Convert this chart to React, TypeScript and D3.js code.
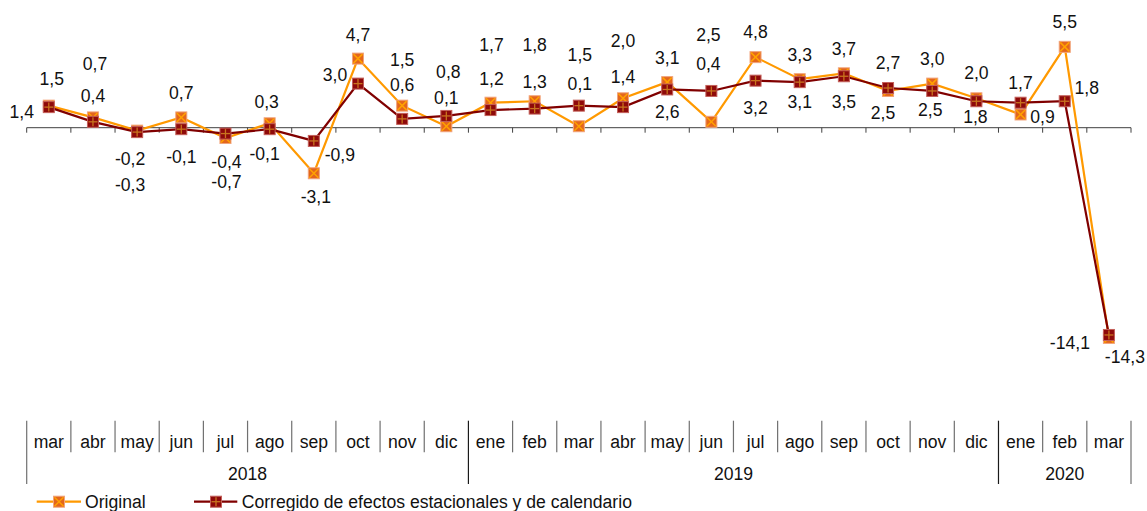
import React from "react";
import * as d3 from "d3";

const months = ["mar","abr","may","jun","jul","ago","sep","oct","nov","dic","ene","feb","mar","abr","may","jun","jul","ago","sep","oct","nov","dic","ene","feb","mar"];
const yearLabels = ["2018", "2019", "2020"];
const yearSpans = [10, 12, 3];
const original = [1.5,0.7,-0.2,0.7,-0.7,0.3,-3.1,4.7,1.5,0.1,1.7,1.8,0.1,2.0,3.1,0.4,4.8,3.3,3.7,2.5,3.0,2.0,0.9,5.5,-14.3];
const corrected = [1.4,0.4,-0.3,-0.1,-0.4,-0.1,-0.9,3.0,0.6,0.8,1.2,1.3,1.5,1.4,2.6,2.5,3.2,3.1,3.5,2.7,2.5,1.8,1.7,1.8,-14.1];
const seriesNames = ["Original", "Corregido de efectos estacionales y de calendario"];

// label placement (offset of label centre from its point)
const origLabelOffset: [number, number][] = [
  [3,-27],[2,-54],[-7,28],[0,-25],[1,44],[-3,-22],[2,23],[0,-24],[0,-46],[0,-29],
  [1,-58],[0,-57],[1,-43],[0,-58],[0,-24],[-3,-58],[0,-25],[0,-25],[0,-25],[-5,22],
  [0,-25],[0,-26],[22,2],[0,-25],[16,19]];
const saLabelOffset: [number, number][] = [
  [-27,5],[0,-26],[-7,53],[0,27],[1,28],[-5,24],[26,14],[-23,-9],[0,-34],[2,-44],
  [1,-31],[0,-27],[1,-51],[0,-30],[0,22],[-3,-56],[0,27],[0,20],[0,25],[0,-25],
  [-2,19],[-1,15],[0,-20],[22,-14],[-39,8]];

const W = 1147, H = 511;
const FONT = "'Liberation Sans', Arial, sans-serif";
const FS = 17.6;
const ORANGE = "#FF9900";
const DARK = "#800000";

const fmt = (v: number) => v.toFixed(1).replace(".", ",");

function OrigMarker({ x, y, s = 11 }: { x: number; y: number; s?: number }) {
  const h = s / 2;
  return (
    <g>
      <rect x={x - h} y={y - h} width={s} height={s} fill="#E3661C" stroke="#F2A47A" strokeWidth={1} />
      <line x1={x - h + 1} y1={y - h + 1} x2={x + h - 1} y2={y + h - 1} stroke="#FFA200" strokeWidth={1.5} />
      <line x1={x - h + 1} y1={y + h - 1} x2={x + h - 1} y2={y - h + 1} stroke="#FFA200" strokeWidth={1.5} />
    </g>
  );
}

function SaMarker({ x, y, s = 11 }: { x: number; y: number; s?: number }) {
  const h = s / 2;
  return (
    <g>
      <rect x={x - h} y={y - h} width={s} height={s} fill="#8E0A0A" stroke="#C4605A" strokeWidth={1} />
      <line x1={x} y1={y - h + 1} x2={x} y2={y + h - 1} stroke="#C8741E" strokeWidth={1.3} />
      <line x1={x - h + 1} y1={y} x2={x + h - 1} y2={y} stroke="#C8741E" strokeWidth={1.3} />
    </g>
  );
}

export default function App() {
  const idx = months.map((_, i) => i);
  const x = d3.scaleBand<number>().domain(idx).range([26.7, 1131]).padding(0);
  const bw = x.bandwidth();
  const cx = (i: number) => (x(i) as number) + bw / 2;
  const y = d3.scaleLinear().domain([-16, 8]).range([362.9, 10.1]);
  const y0 = y(0);

  const line = d3.line<number>().x((_, i) => cx(i)).y((d) => y(d));

  const boundaries = d3.range(months.length + 1).map((i) => 26.7 + i * bw);
  const yearBounds: number[] = [0];
  yearSpans.forEach((s, k) => yearBounds.push(yearBounds[k] + s));

  return (
    <div style={{ position: "absolute", left: 0, top: 0 }}>
      <svg width={W} height={H} style={{ display: "block", fontFamily: FONT }}>
        <rect width={W} height={H} fill="#fff" />
        {/* zero axis */}
        <line x1={boundaries[0]} x2={boundaries[boundaries.length - 1]} y1={y0} y2={y0} stroke="#404040" strokeWidth={1} />
        {boundaries.map((b, i) => (
          <line key={"t" + i} x1={b} x2={b} y1={y0} y2={y0 + 5} stroke="#404040" strokeWidth={1} />
        ))}

        {/* series lines */}
        <path d={line(original) || ""} fill="none" stroke={ORANGE} strokeWidth={2.2} />
        {original.map((v, i) => <OrigMarker key={"om" + i} x={cx(i)} y={y(v)} />)}
        <path d={line(corrected) || ""} fill="none" stroke={DARK} strokeWidth={2.2} />
        {corrected.map((v, i) => <SaMarker key={"sm" + i} x={cx(i)} y={y(v)} />)}

        {/* data labels */}
        {original.map((v, i) => (
          <text key={"ol" + i} x={cx(i) + origLabelOffset[i][0]} y={y(v) + origLabelOffset[i][1]} dy="0.36em"
            textAnchor="middle" fontSize={FS} fill="#111">{fmt(v)}</text>
        ))}
        {corrected.map((v, i) => (
          <text key={"sl" + i} x={cx(i) + saLabelOffset[i][0]} y={y(v) + saLabelOffset[i][1]} dy="0.36em"
            textAnchor="middle" fontSize={FS} fill="#111">{fmt(v)}</text>
        ))}

        {/* category axis */}
        {boundaries.map((b, i) => {
          const isYear = yearBounds.includes(i);
          return (
            <line key={"sep" + i} x1={b} x2={b} y1={420.7} y2={isYear ? 484 : 452.3}
              stroke={isYear && i !== 0 && i !== months.length ? "#1a1a1a" : "#707070"} strokeWidth={1.2} />
          );
        })}
        {months.map((m, i) => (
          <text key={"m" + i} x={cx(i)} y={441.7} dy="0.36em" textAnchor="middle" fontSize={FS} fill="#111">{m}</text>
        ))}
        {yearLabels.map((yl, k) => {
          const a = boundaries[yearBounds[k]], b = boundaries[yearBounds[k + 1]];
          return (
            <text key={"y" + k} x={(a + b) / 2} y={474} dy="0.36em" textAnchor="middle" fontSize={FS} fill="#111">{yl}</text>
          );
        })}

        {/* legend */}
        <line x1={36.7} x2={81} y1={501.7} y2={501.7} stroke={ORANGE} strokeWidth={2.2} />
        <OrigMarker x={59} y={501.7} />
        <text x={85} y={501.7} dy="0.36em" fontSize={FS} fill="#111">{seriesNames[0]}</text>
        <line x1={194} x2={237.3} y1={501.7} y2={501.7} stroke={DARK} strokeWidth={2.2} />
        <SaMarker x={216} y={501.7} />
        <text x={241.7} y={501.7} dy="0.36em" fontSize={FS} fill="#111">{seriesNames[1]}</text>
      </svg>
    </div>
  );
}
